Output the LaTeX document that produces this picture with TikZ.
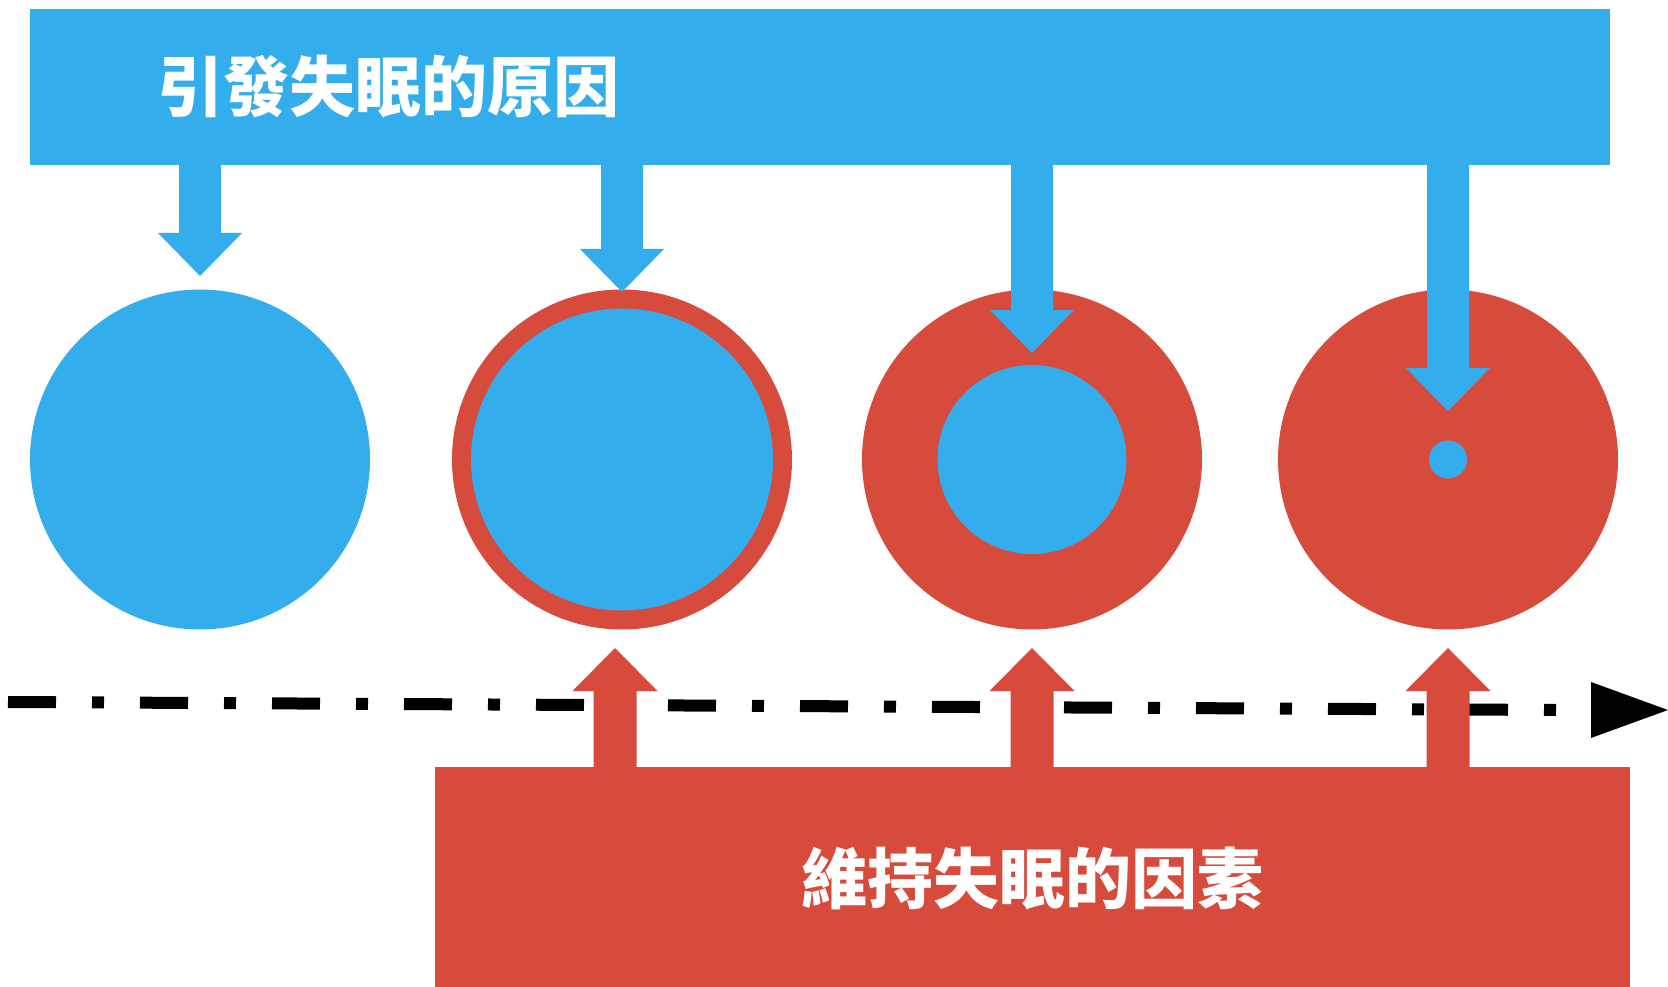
\documentclass[tikz,border=0pt]{standalone}
\usepackage{fontspec}
\newfontfamily\cjk{Noto Sans CJK TC}
\definecolor{cblue}{RGB}{51,173,235}
\definecolor{cred}{RGB}{214,75,60}
\begin{document}
\begin{tikzpicture}[x=1pt,y=-1pt,
  bluefill/.style={fill=cblue,draw=none},
  redfill/.style={fill=cred,draw=none},
  title/.style={text=white,inner sep=0pt,font=\cjk\bfseries\fontsize{66}{70}\selectfont}]
\useasboundingbox (0,0) rectangle (1668,987);
% top bar
\fill[cblue] (30,9) rectangle (1610,165);
\node[title] (causes) at (388,87) {引發失眠的原因};
% circles
\node[circle,bluefill,minimum size=340pt,inner sep=0pt] (c1) at (200,459.5) {};
\node[circle,redfill,minimum size=340pt,inner sep=0pt] (c2) at (622,459.5) {};
\node[circle,bluefill,minimum size=302pt,inner sep=0pt] (c2i) at (622,459.5) {};
\node[circle,redfill,minimum size=340pt,inner sep=0pt] (c3) at (1032,459.5) {};
\node[circle,bluefill,minimum size=189pt,inner sep=0pt] (c3i) at (1032,459.5) {};
\node[circle,redfill,minimum size=340pt,inner sep=0pt] (c4) at (1448,459.5) {};
\node[circle,bluefill,minimum size=38pt,inner sep=0pt] (c4i) at (1448,459.5) {};
% down arrows
\foreach \cx/\tip in {200/276, 622/292, 1032/353, 1448/411}{
  \fill[cblue] (\cx-21,164) -- (\cx+21,164) -- (\cx+21,\tip-43) -- (\cx+42,\tip-43)
    -- (\cx,\tip) -- (\cx-42,\tip-43) -- (\cx-21,\tip-43) -- cycle;
}
% timeline
\coordinate (ls) at (8,702);
\coordinate (le) at (1556,710);
\draw[line width=12pt,dash pattern=on 48pt off 36pt on 12pt off 36pt] (ls) -- (le);
\fill[black] (1591,682) -- (1668,710) -- (1591,738) -- cycle;
% bottom box
\fill[cred] (435,767) rectangle (1630,987);
\node[title] (maintain) at (1032,878) {維持失眠的因素};
% up arrows
\foreach \cx in {615, 1032, 1448}{
  \fill[cred] (\cx-21.5,768) -- (\cx+21.5,768) -- (\cx+21.5,691) -- (\cx+42.5,691)
    -- (\cx,648) -- (\cx-42.5,691) -- (\cx-21.5,691) -- cycle;
}
\end{tikzpicture}
\end{document}
